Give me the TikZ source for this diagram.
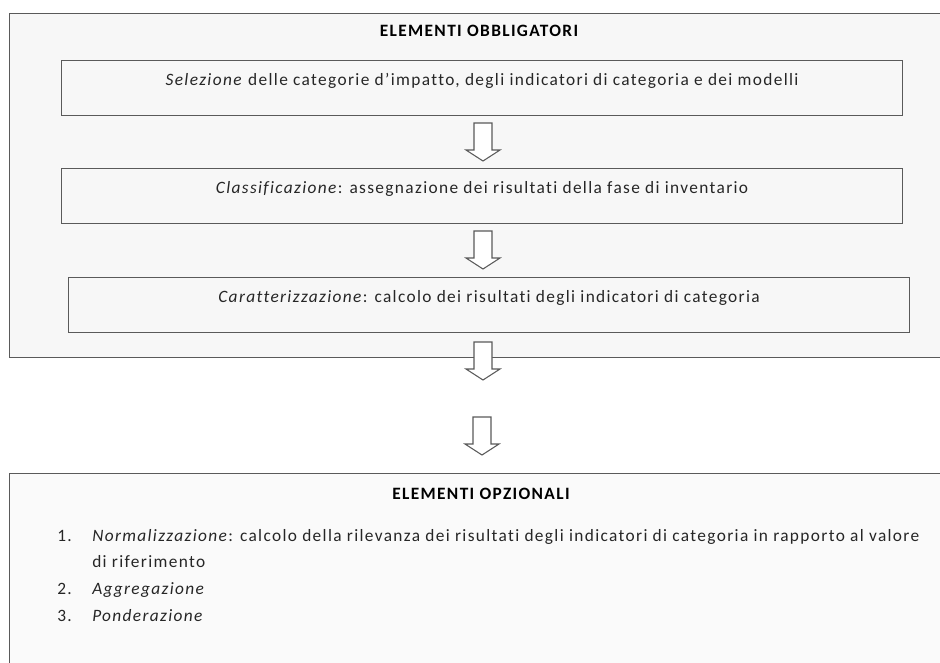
\documentclass[tikz,border=0pt]{standalone}
\usepackage{fontspec}
\setmainfont{Carlito}[LetterSpace=7.8, Ligatures=NoCommon]
\usetikzlibrary{positioning}

\definecolor{framegray}{HTML}{5A5A5A}
\definecolor{panelfill}{HTML}{F7F7F7}
\definecolor{optfill}{HTML}{FAFAFA}
\definecolor{bodytext}{HTML}{262626}

\tikzset{
  panel/.style={draw=framegray, line width=1.1pt, anchor=north west, inner sep=0pt},
  stagebox/.style={draw=framegray, line width=0.9pt, fill=panelfill, anchor=north west,
    minimum width=630.75pt, inner xsep=0pt, inner ysep=0pt,
    text height=18.5pt, text depth=22.5pt, text=bodytext,
    font=\fontsize{13}{15}\selectfont},
  paneltitle/.style={font=\fontsize{13}{15}\selectfont\bfseries, text=black, inner sep=0pt},
  listtext/.style={font=\fontsize{13}{15}\selectfont, text=bodytext, inner sep=0pt, anchor=base west},
  flowarrow/.pic={
    \draw[framegray, line width=0.8pt, fill=white, line join=miter]
      (-9,0) -- (9,0) -- (9,27) -- (17,27) -- (0,38) -- (-17,27) -- (-9,27) -- cycle;
  }
}

\begin{document}
\begin{tikzpicture}[x=0.75pt, y=-0.75pt]
  \useasboundingbox (0,0) rectangle (940,662);
  \clip (0,0) rectangle (940,662);
  \fill[white] (0,0) rectangle (940,662);

  % mandatory elements panel
  \node[panel, fill=panelfill, minimum width=705pt, minimum height=258pt] (obbl) at (8.5,13) {};
  \node[paneltitle] (obbltitle) at (479,31) {ELEMENTI OBBLIGATORI};

  \node[stagebox] (sel) at (61,60)
    {\textit{Selezione} delle categorie d’impatto, degli indicatori di categoria e dei modelli};
  \node[stagebox] (cls) at (61,168)
    {\textit{Classificazione}: assegnazione dei risultati della fase di inventario};
  \node[stagebox] (car) at (68,277)
    {\textit{Caratterizzazione}: calcolo dei risultati degli indicatori di categoria};

  % optional elements panel
  \node[panel, fill=optfill, minimum width=705pt, minimum height=160pt] (opz) at (8.5,473) {};
  \node[paneltitle] (opztitle) at (481,494) {ELEMENTI OPZIONALI};

  \node[listtext] (n1) at (57,541) {1.};
  \node[listtext] (t1) at (92,541)
    {\textit{Normalizzazione}: calcolo della rilevanza dei risultati degli indicatori di categoria in rapporto al valore};
  \node[listtext] (t1b) at (92,567) {di riferimento};
  \node[listtext] (n2) at (57,594) {2.};
  \node[listtext] (t2) at (92,594) {\textit{Aggregazione}};
  \node[listtext] (n3) at (57,621) {3.};
  \node[listtext] (t3) at (92,621) {\textit{Ponderazione}};

  % block arrows between the stages
  \pic at (483,123) {flowarrow};
  \pic at (483,231) {flowarrow};
  \pic at (483,342) {flowarrow};
  \pic at (482,417) {flowarrow};
\end{tikzpicture}
\end{document}
